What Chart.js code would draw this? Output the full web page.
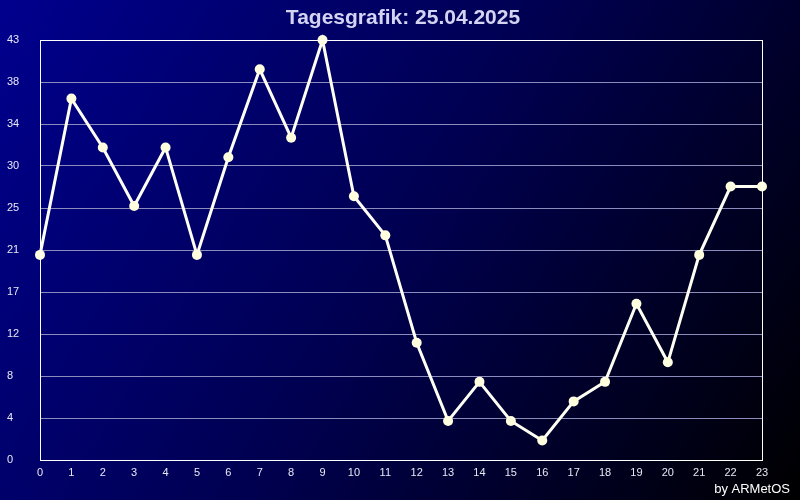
<!DOCTYPE html>
<html>
<head>
<meta charset="utf-8">
<script src="https://cdn.jsdelivr.net/npm/chart.js@4.4.0/dist/chart.umd.min.js"></script>
<style>
  html, body { margin: 0; padding: 0; background: #000; }
  #wrap { width: 800px; height: 500px; }
</style>
</head>
<body>
<div id="wrap"><canvas id="tagesChart" width="800" height="500"></canvas></div>
<script>
let hours = ['0','1','2','3','4','5','6','7','8','9','10','11','12','13','14','15','16','17','18','19','20','21','22','23'];
let werte = [21, 37, 32, 26, 32, 21, 31, 40, 33, 43, 27, 23, 12, 4, 8, 4, 2, 6, 8, 16, 10, 21, 28, 28];
let yTickLabels = ['0','4','8','12','17','21','25','30','34','38','43'];
let yMax = 43;
let titel = 'Tagesgrafik: 25.04.2025';
let credit = 'by ARMetOS';

// Hintergrund, Rahmen und Texte
const deko = {
    id: 'deko',
    beforeDraw(chart) {
        const c = chart.ctx;
        const g = c.createLinearGradient(0, 0, chart.width, chart.height);
        g.addColorStop(0, '#00008e');
        g.addColorStop(0.5, '#000050');
        g.addColorStop(1, '#000000');
        c.save();
        c.fillStyle = g;
        c.fillRect(0, 0, chart.width, chart.height);
        c.restore();
    },
    afterDatasetsDraw(chart) {
        const c = chart.ctx;
        const a = chart.chartArea;
        c.save();
        c.strokeStyle = '#ffffff';
        c.lineWidth = 1;
        c.strokeRect(Math.round(a.left) + 0.5, Math.round(a.top) + 0.5, Math.round(a.right - a.left), Math.round(a.bottom - a.top));
        c.restore();
    },
    afterDraw(chart) {
        const c = chart.ctx;
        c.save();
        c.fillStyle = '#d4d4f2';
        c.font = 'bold 21px "Liberation Sans", Arial, sans-serif';
        c.textAlign = 'center';
        c.textBaseline = 'alphabetic';
        c.fillText(titel, 403, 24);
        c.fillStyle = '#ffffff';
        c.font = '13px "Liberation Sans", Arial, sans-serif';
        c.textAlign = 'right';
        c.fillText(credit, 790, 493);
        c.restore();
    }
};

// Liniendiagramm
var ctx = document.getElementById('tagesChart').getContext('2d');
var tagesChart = new Chart(ctx, {
    type: 'line',
    data: {
        labels: hours,
        datasets: [{
            data: werte,
            borderColor: '#fffff4',
            borderWidth: 3,
            pointRadius: 5,
            pointBackgroundColor: '#ffffe0',
            pointBorderColor: '#ffffe0',
            pointBorderWidth: 0,
            tension: 0,
            clip: false
        }]
    },
    options: {
        responsive: false,
        animation: false,
        layout: { padding: { top: 40, left: 7, right: 38, bottom: 0 } },
        plugins: {
            legend: { display: false },
            tooltip: { enabled: false }
        },
        scales: {
            x: {
                offset: false,
                grid: { display: false, drawTicks: false },
                border: { display: false },
                ticks: {
                    color: '#e8e8f4',
                    font: { family: '"Liberation Sans", Arial, sans-serif', size: 11 },
                    padding: 6,
                    maxRotation: 0,
                    autoSkip: false
                },
                afterFit(axis) { axis.height = 40; }
            },
            y: {
                min: 0,
                max: yMax,
                grid: { color: '#8c8cbc', lineWidth: 1, drawTicks: false },
                border: { display: false },
                ticks: {
                    color: '#e8e8f4',
                    font: { family: '"Liberation Sans", Arial, sans-serif', size: 11 },
                    crossAlign: 'far',
                    callback: (v, i) => yTickLabels[i]
                },
                afterBuildTicks(axis) {
                    axis.ticks = yTickLabels.map((l, i) => ({ value: yMax * i / (yTickLabels.length - 1) }));
                },
                afterFit(axis) { axis.width = 33; }
            }
        }
    },
    plugins: [deko]
});
</script>
</body>
</html>
